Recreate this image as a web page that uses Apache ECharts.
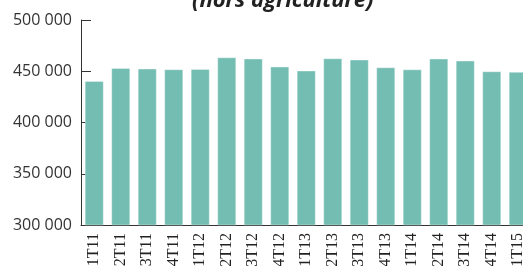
<!DOCTYPE html>
<html><head><meta charset="utf-8">
<script src="https://cdn.jsdelivr.net/npm/echarts@6/dist/echarts.min.js"></script>
<style>html,body{margin:0;padding:0;background:#fff}#c{width:523px;height:266px}</style>
</head><body><div id="c"></div>
<script>
const categories = ['1T11','2T11','3T11','4T11','1T12','2T12','3T12','4T12','1T13','2T13','3T13','4T13','1T14','2T14','3T14','4T14','1T15'];
const values = [440500,453200,452600,452000,452300,463600,462400,454600,450700,462700,461400,453900,451900,462400,460400,450000,449400];
const titleText = '(hors agriculture)';
const yMin = 300000, yMax = 500000, yStep = 50000;

const chart = echarts.init(document.getElementById('c'), null, {renderer:'canvas'});
chart.setOption({
  animation:false,
  title:{text:titleText,left:187,top:-15,textStyle:{fontFamily:'Open Sans',fontWeight:'bold',fontStyle:'italic',fontSize:22,color:'#222'}},
  grid:{left:81,right:-8.5,top:20,bottom:41,containLabel:false,outerBoundsMode:'none'},
  xAxis:{type:'category',data:categories,
    axisLine:{lineStyle:{color:'#333',width:1}},
    axisTick:{inside:true,length:3,lineStyle:{color:'#333'}},
    axisLabel:{rotate:90,interval:0,margin:8,padding:[0,0,6,0],fontFamily:'Liberation Serif',fontSize:16,color:'#222'}},
  yAxis:{type:'value',min:yMin,max:yMax,interval:yStep,
    axisLine:{show:true,lineStyle:{color:'#333',width:1}},
    axisTick:{show:true,inside:true,length:10,lineStyle:{color:'#333'}},
    splitLine:{show:false},
    axisLabel:{margin:9,fontFamily:'Open Sans',fontSize:16,color:'#333',
      formatter:v=>String(v).replace(/\B(?=(\d{3})+(?!\d))/g,' ')}},
  series:[{type:'bar',data:values,barWidth:'72%',
    itemStyle:{color:'#74bdb3',borderColor:'rgba(255,255,255,0.35)',borderWidth:1}}]
});
</script></body></html>
